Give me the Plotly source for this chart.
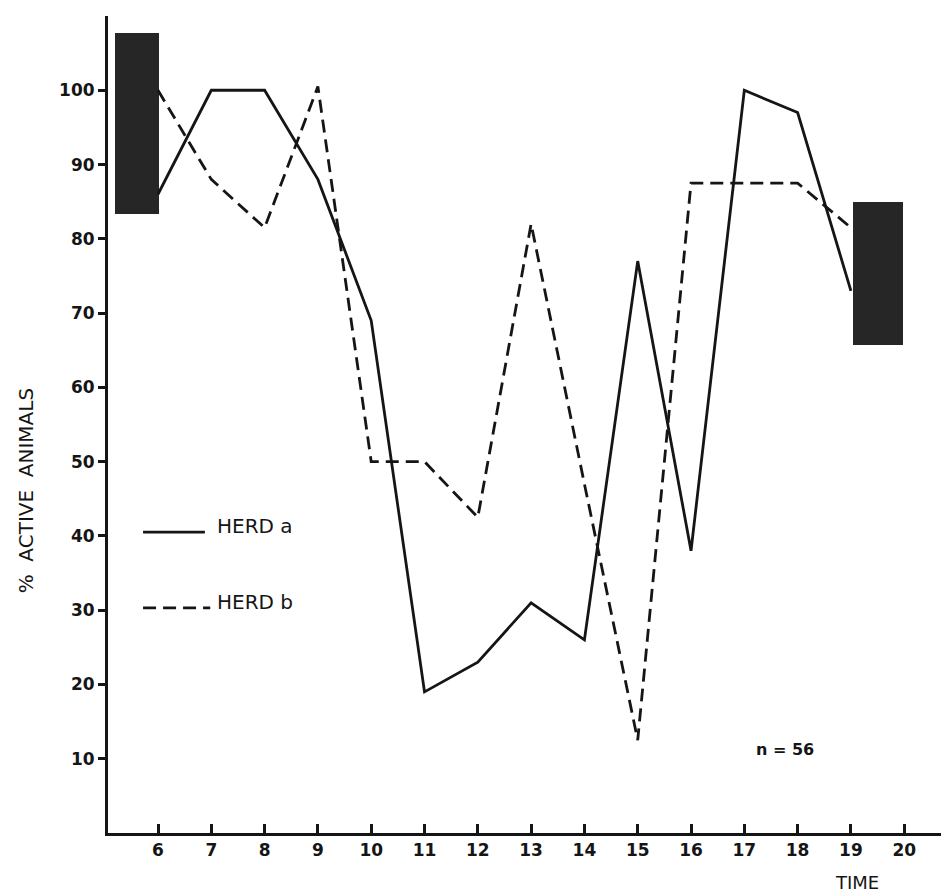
import numpy as np
import plotly.graph_objects as go

# ---- data ----
hours = [6, 7, 8, 9, 10, 11, 12, 13, 14, 15, 16, 17, 18, 19]
herd_a = [86, 100, 100, 88, 69, 19, 23, 31, 26, 77, 38, 100, 97, 73]
herd_b = [100, 88, 81.5, 100.5, 50, 50, 42.5, 82, 47, 12.5, 87.5, 87.5, 87.5, 81.5]

x_tick_vals = list(range(6, 21))
x_tick_text = [str(v) for v in x_tick_vals]
y_tick_vals = list(range(10, 101, 10))
y_tick_text = [str(v) for v in y_tick_vals]

# dark (night) periods: start hour, end hour, lower %, upper %
dark_start = [5.19, 19.04]
dark_end = [6.02, 19.98]
dark_low = [83.4, 65.7]
dark_high = [107.7, 84.9]

n_label = "n = 56"

INK = "#151515"
FONT = "DejaVu Sans"

# page body has an 8px default margin, so the figure is laid out 8px offset
W, H = 941, 886
ML, MT, MB = 100, 8, 61
PW = W - ML           # plot width in px
PH = H - MT - MB      # plot height in px

fig = go.Figure()

ds = np.array(dark_start)
de = np.array(dark_end)
dl = np.array(dark_low)
dh = np.array(dark_high)
fig.add_trace(go.Bar(
    x=(ds + de) / 2, width=de - ds, base=dl, y=dh - dl,
    marker=dict(color="#262626", line=dict(width=0)),
    yaxis="y", showlegend=False, hoverinfo="skip",
))

fig.add_trace(go.Scatter(
    x=hours, y=herd_b, mode="lines", name="HERD b",
    line=dict(color=INK, width=2.8, dash="13px,7px"),
    yaxis="y2", showlegend=False,
))
fig.add_trace(go.Scatter(
    x=hours, y=herd_a, mode="lines", name="HERD a",
    line=dict(color=INK, width=2.8),
    yaxis="y2", showlegend=False,
))

# hand-drawn style legend
fig.add_shape(type="line", xref="x", yref="y", x0=5.72, x1=6.88, y0=40.5, y1=40.5,
              line=dict(color=INK, width=2.8))
fig.add_shape(type="line", xref="x", yref="y", x0=5.72, x1=6.98, y0=30.3, y1=30.3,
              line=dict(color=INK, width=2.8, dash="13px,7px"))
fig.add_annotation(x=7.07, y=41.3, xref="x", yref="y", text="HERD a", showarrow=False,
                   xanchor="left", yanchor="middle", font=dict(family=FONT, size=20, color=INK))
fig.add_annotation(x=7.07, y=31.1, xref="x", yref="y", text="HERD b", showarrow=False,
                   xanchor="left", yanchor="middle", font=dict(family=FONT, size=20, color=INK))

fig.add_annotation(x=17.76, y=11.2, xref="x", yref="y", text=n_label, showarrow=False,
                   xanchor="center", yanchor="middle",
                   font=dict(family=FONT, size=16, color=INK, weight="bold"))

# axis titles
fig.add_annotation(x=-(ML - 18) / PW, y=46, xref="paper", yref="y", text="%  ACTIVE  ANIMALS",
                   textangle=-90, showarrow=False, xanchor="center", yanchor="middle",
                   font=dict(family=FONT, size=20, color=INK))
fig.add_annotation(x=19.11, y=-50 / PH, xref="x", yref="paper", text="TIME",
                   showarrow=False, xanchor="center", yanchor="middle",
                   font=dict(family=FONT, size=18, color=INK))

fig.update_layout(
    width=W, height=H,
    margin=dict(l=ML, r=0, t=MT, b=MB, autoexpand=False),
    paper_bgcolor="white", plot_bgcolor="white",
    font=dict(family=FONT, color=INK),
    xaxis=dict(
        range=[5.062, 20.84], tickmode="array", tickvals=x_tick_vals, ticktext=x_tick_text,
        ticks="inside", ticklen=9, tickwidth=2.5, tickcolor=INK,
        showline=True, linewidth=3, linecolor=INK, showgrid=False, zeroline=False,
        tickfont=dict(family=FONT, size=17, color=INK, weight="bold"),
    ),
    yaxis=dict(
        range=[0, 110], tickmode="array", tickvals=y_tick_vals, ticktext=y_tick_text,
        ticks="outside", ticklen=7, tickwidth=2.5, tickcolor=INK,
        showline=True, linewidth=3, linecolor=INK, showgrid=False, zeroline=False,
        tickfont=dict(family=FONT, size=17, color=INK, weight="bold"),
    ),
    yaxis2=dict(
        range=[0, 110], overlaying="y", side="right", tickmode="array", tickvals=y_tick_vals,
        ticks="inside", ticklen=6, tickwidth=3, tickcolor=INK,
        showticklabels=False, showline=False, showgrid=False, zeroline=False,
    ),
    bargap=0,
)

fig.write_html("out.html")
